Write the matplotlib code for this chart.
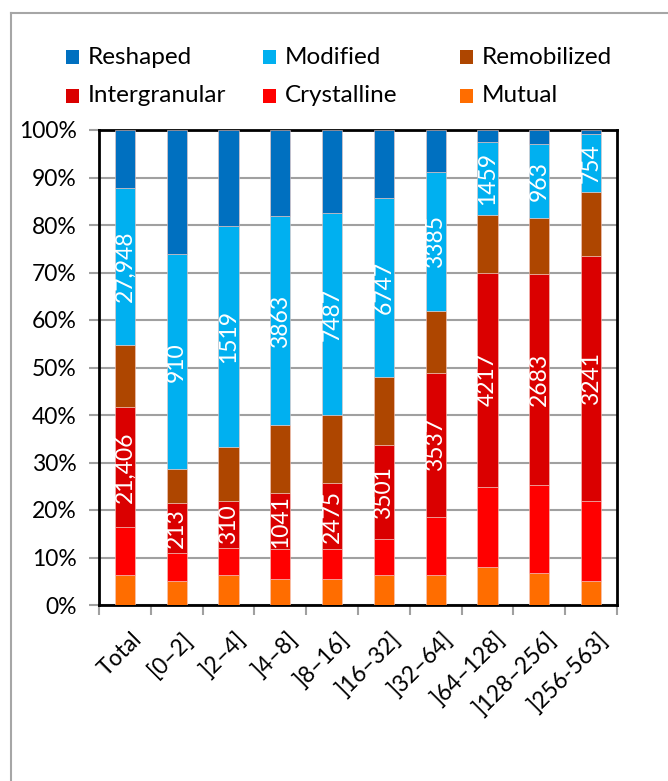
import numpy as np
import matplotlib.pyplot as plt
import matplotlib.transforms as mtransforms
from matplotlib.patches import Rectangle
from matplotlib.lines import Line2D

plt.rcParams['font.family'] = ['Lato', 'DejaVu Sans']

# kategorien (größenklassen)
categories = ["Total", "[0–2]", "]2–4]", "]4–8]", "]8–16]", "]16–32]",
              "]32–64]", "]64–128]", "]128–256]", "]256-563]"]

# anteile in prozent, von unten nach oben
mutual = [6.3, 5.1, 6.3, 5.5, 5.5, 6.3, 6.3, 8.0, 6.8, 5.1]
crystalline = [10.1, 5.9, 5.8, 6.2, 6.2, 7.6, 12.2, 16.8, 18.4, 16.8]
intergranular = [25.3, 10.4, 9.7, 11.8, 14.0, 19.7, 30.4, 45.2, 44.4, 51.5]
remobilized = [13.0, 7.2, 11.4, 14.3, 14.2, 14.4, 13.0, 12.1, 11.8, 13.5]
modified = [33.1, 45.2, 46.5, 44.0, 42.7, 37.7, 29.2, 15.4, 15.6, 12.3]
reshaped = [12.2, 26.2, 20.3, 18.2, 17.4, 14.3, 8.9, 2.5, 3.0, 0.8]

# beschriftungen (anzahl)
modified_labels = ["27,948", "910", "1519", "3863", "7487", "6747", "3385", "1459", "963", "754"]
intergranular_labels = ["21,406", "213", "310", "1041", "2475", "3501", "3537", "4217", "2683", "3241"]

series = [("Mutual", mutual, "#FF6D00"),
          ("Crystalline", crystalline, "#FF0000"),
          ("Intergranular", intergranular, "#DA0000"),
          ("Remobilized", remobilized, "#AE4600"),
          ("Modified", modified, "#00B0F0"),
          ("Reshaped", reshaped, "#0070C0")]

fig = plt.figure(figsize=(6.68, 7.81), dpi=100)
ax = fig.add_axes([99 / 668, 1 - 605 / 781, 518 / 668, 475 / 781])

x = np.arange(len(categories))
bottom = np.zeros(len(categories))
colors = {}
containers = {}
for name, vals, col in series:
    vals = np.array(vals)
    containers[name] = ax.bar(x, vals, 0.39, bottom=bottom, color=col,
                              edgecolor="#F4C8C0", linewidth=0.4, zorder=3)
    colors[name] = col
    bottom = bottom + vals

# weiße zahlen in den balken
for name, labels in [("Modified", modified_labels), ("Intergranular", intergranular_labels)]:
    for rect, lab in zip(containers[name], labels):
        cx = rect.get_x() + rect.get_width() / 2
        cy = rect.get_y() + rect.get_height() / 2
        ax.text(cx, cy, lab, rotation=90, ha="center", va="center",
                color="white", fontsize=16.5, zorder=4)

ax.set_xlim(-0.5, len(categories) - 0.5)
ax.set_ylim(0, 100)
ax.set_yticks(np.arange(0, 101, 10))
ax.set_yticklabels([f"{v}%" for v in range(0, 101, 10)], fontsize=16.5)
ax.yaxis.grid(True, color="#A0A0A0", linewidth=1.5, zorder=0)
ax.tick_params(axis="y", length=7, width=1.5, color="#A0A0A0", pad=9)

ax.set_xticks(x)
ax.set_xticklabels(categories, rotation=45, ha="right", rotation_mode="anchor",
                   fontsize=16.5)
ax.tick_params(axis="x", length=0, pad=17)
offset = mtransforms.ScaledTranslation(6 / 100, 0, fig.dpi_scale_trans)
for lab in ax.get_xticklabels():
    lab.set_transform(lab.get_transform() + offset)
ax.set_xticks(np.arange(-0.5, len(categories), 1), minor=True)
ax.tick_params(axis="x", which="minor", length=7, width=1.5, color="#A0A0A0")

for sp in ax.spines.values():
    sp.set_color("black")
    sp.set_linewidth(2)

# legende, 2 zeilen mit je 3 einträgen
legend_order = ["Reshaped", "Modified", "Remobilized", "Intergranular", "Crystalline", "Mutual"]
for i, name in enumerate(legend_order):
    col_x = 66 + (i % 3) * 197
    row_y = 57 + (i // 3) * 39
    fig.add_artist(Rectangle((col_x / 668, 1 - (row_y + 7) / 781), 13 / 668, 14 / 781,
                             facecolor=colors[name], edgecolor="none",
                             transform=fig.transFigure))
    fig.text((col_x + 22) / 668, 1 - row_y / 781, name, ha="left", va="center",
             fontsize=17.5)

# rahmen des diagrammbereichs
fig.add_artist(Line2D([11 / 668, 11 / 668], [0, 1 - 13 / 781], color="#A6A6A6",
                      linewidth=1.5, transform=fig.transFigure))
fig.add_artist(Line2D([11 / 668, 1], [1 - 13 / 781, 1 - 13 / 781], color="#A6A6A6",
                      linewidth=1.5, transform=fig.transFigure))

fig.savefig("out.png", dpi=100)
